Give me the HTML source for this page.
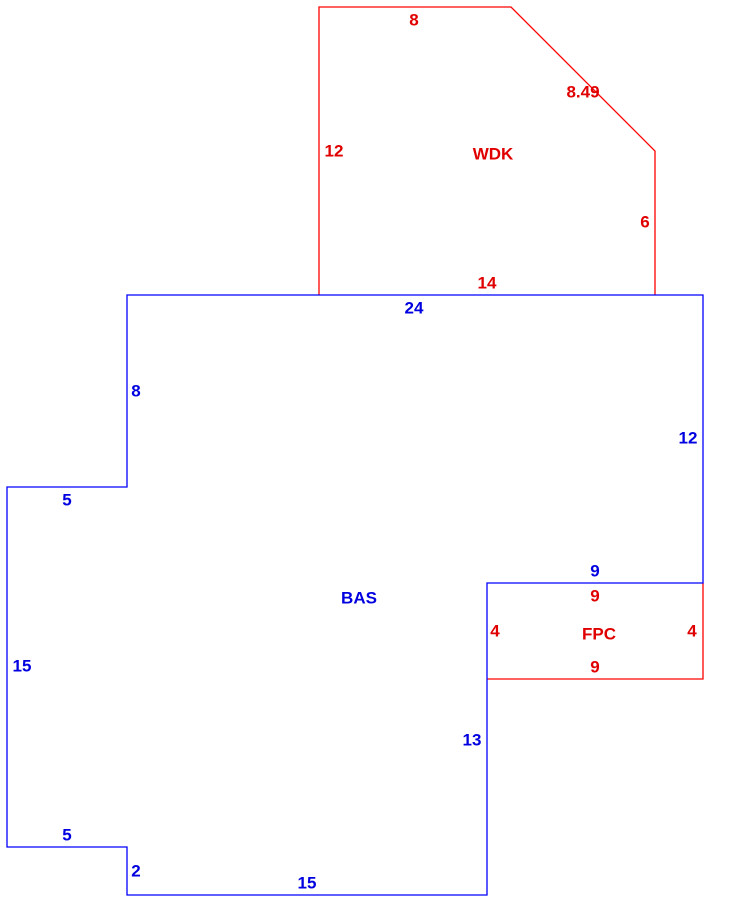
<!DOCTYPE html>
<html><head><style>html,body{margin:0;padding:0;background:#fff;}svg{display:block}</style></head>
<body>
<svg width="749" height="920" viewBox="0 0 749 920" xmlns="http://www.w3.org/2000/svg" font-family="Liberation Sans, sans-serif" font-size="17" font-weight="bold" text-anchor="middle" dominant-baseline="central">
<g fill="none" stroke-width="1.3">
<polyline stroke="#ff0000" points="319,295 319,7 511,7 655,151 655,295"/>
<polyline stroke="#ff0000" points="703,583 703,679 487,679"/>
<polygon stroke="#0000ff" points="127,295 703,295 703,583 487,583 487,895 127,895 127,847 7,847 7,487 127,487"/>
</g>
<g fill="#e00000">
<text x="414" y="20">8</text>
<text x="583" y="92">8.49</text>
<text x="334" y="151">12</text>
<text x="493" y="154">WDK</text>
<text x="645" y="222">6</text>
<text x="487" y="283">14</text>
<text x="595" y="596">9</text>
<text x="495" y="631">4</text>
<text x="599" y="634">FPC</text>
<text x="692" y="631">4</text>
<text x="595" y="667">9</text>
</g>
<g fill="#0000e0">
<text x="414" y="308">24</text>
<text x="136" y="391">8</text>
<text x="688" y="438">12</text>
<text x="67" y="500">5</text>
<text x="595" y="571">9</text>
<text x="359" y="598">BAS</text>
<text x="22" y="666">15</text>
<text x="472" y="740">13</text>
<text x="67" y="835">5</text>
<text x="136" y="871">2</text>
<text x="307" y="883">15</text>
</g>
</svg>
</body></html>
